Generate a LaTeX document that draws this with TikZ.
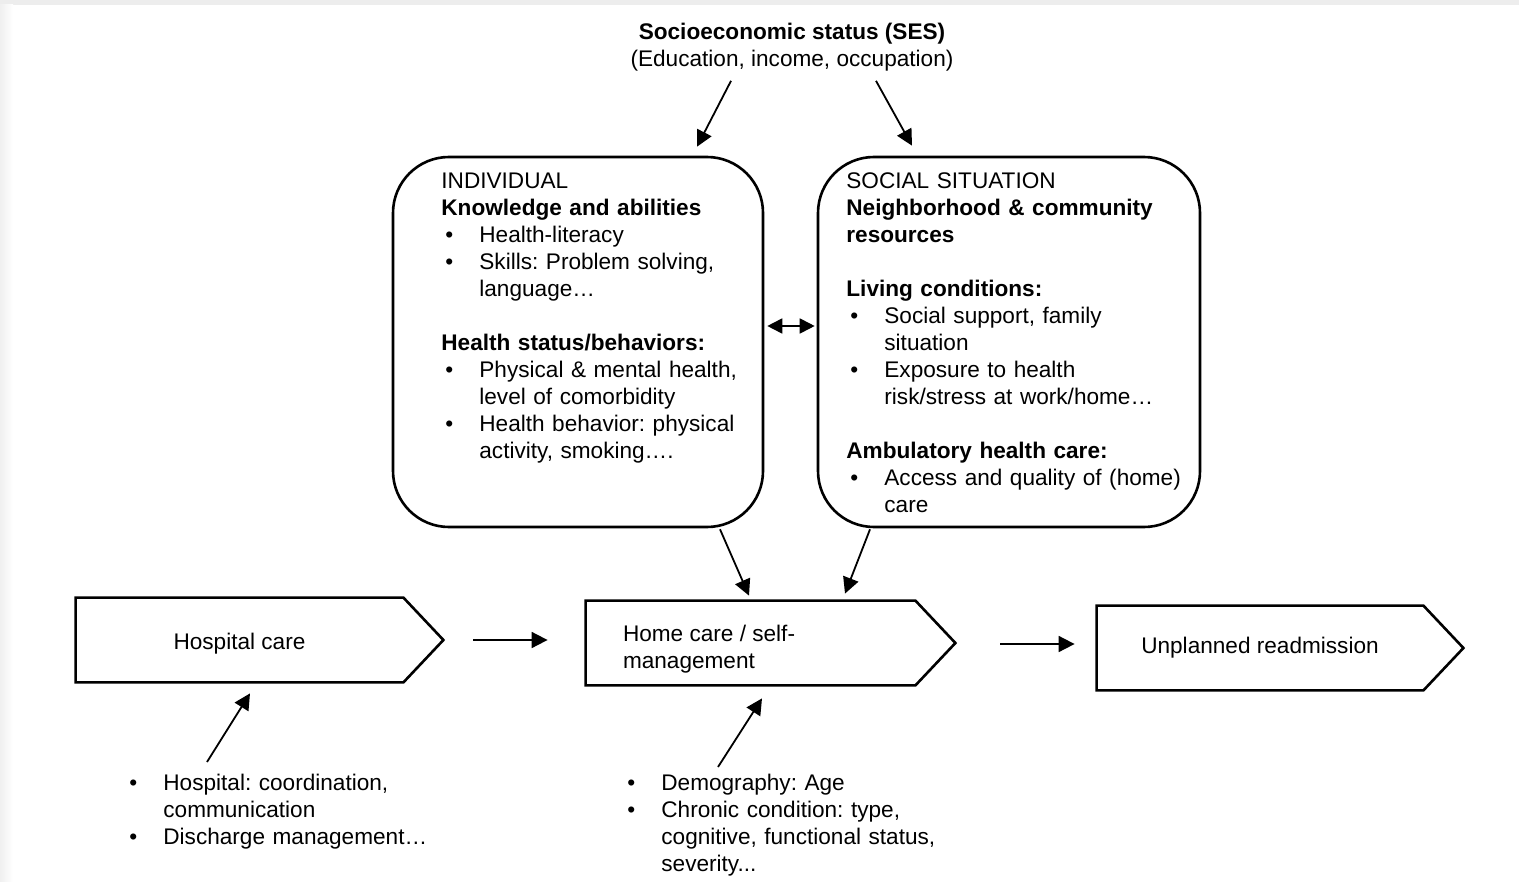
\documentclass[tikz,border=0pt]{standalone}
\usepackage{fontspec}
\setmainfont{Liberation Sans}
\usetikzlibrary{arrows.meta}
\frenchspacing

% bullet item with hanging indent, and an empty line
\newcommand{\itm}[1]{\par\hangindent=19pt\hangafter=1\noindent\hspace*{2pt}\makebox[17pt][l]{\textbullet}#1\par}
\newcommand{\gap}{\par\vspace{\baselineskip}}

\begin{document}
\begin{tikzpicture}[
                x=0.5pt, y=-0.5pt,
                every node/.style={font=\fontsize{11.3}{13.5}\selectfont, inner sep=0pt},
                roundbox/.style={draw, line width=1.3pt, rounded corners=28pt, minimum width=185pt, minimum height=185pt},
                boxtext/.style={anchor=north west, align=left},
                stage/.style={minimum height=42pt},
                arr/.style={line width=0.9pt, -{Triangle[length=8pt,width=8pt]}},
                arrboth/.style={line width=0.9pt, {Triangle[length=7.5pt,width=7.5pt]}-{Triangle[length=7.5pt,width=7.5pt]}}
            ]

            \useasboundingbox (0,0) rectangle (1519,882);
            \fill[black!7] (0,0) rectangle (1519,5);
            \shade[left color=black!6, right color=white] (0,5) rectangle (13,882);

            \node[anchor=north, align=center] (ses) at (792,23) {\textbf{Socioeconomic status (SES)}\\(Education, income, occupation)};

            % the two factor boxes
            \node[roundbox] (indiv) at (578,342) {};
            \node[roundbox, minimum width=191pt] (social) at (1009,342) {};

            \node[boxtext, text width=160pt] (indivtxt) at (441,173) {INDIVIDUAL\par
                \textbf{Knowledge and abilities}
                \itm{Health-literacy}
                \itm{Skills: Problem solving,\newline language…}
                \gap
                \textbf{Health status/behaviors:}
                \itm{Physical \& mental health,\newline level of comorbidity}
                \itm{Health behavior: physical\newline activity, smoking….}};

            \node[boxtext, text width=172pt] (socialtxt) at (846,172) {SOCIAL SITUATION\par
                \textbf{Neighborhood \& community}\par
                \textbf{resources}
                \gap
                \textbf{Living conditions:}
                \itm{Social support, family\newline situation}
                \itm{Exposure to health\newline risk/stress at work/home…}
                \gap
                \textbf{Ambulatory health care:}
                \itm{Access and quality of (home)\newline care}};

            % care path
            \node[stage, minimum width=163.5pt, label={[yshift=-2pt]center:Hospital care}] (hosp) at (239.5,640) {};
            \node[stage, minimum width=164.5pt,
                label={[anchor=west, align=left, xshift=18.5pt, yshift=-3pt]west:{Home care / self-\\management}}] (home) at (750.5,643) {};
            \node[stage, minimum width=163pt, label={center:Unplanned readmission}] (unpl) at (1260,648) {};

            \foreach \n in {hosp,home,unpl}
                \draw[line width=1.3pt] (\n.north west) -- (\n.north east) -- ([xshift=20pt]\n.east)
                    -- (\n.south east) -- (\n.south west) -- cycle;

            \node[boxtext, text width=160pt] (hbul) at (125,763) {%
                \itm{Hospital: coordination,\newline communication}
                \itm{Discharge management…}};
            \node[boxtext, text width=165pt] (dbul) at (623,763) {%
                \itm{Demography: Age}
                \itm{Chronic condition: type,\newline cognitive, functional status,\newline severity...}};

            \draw[arr] ([shift={(-61,9)}]ses.south) -- ([shift={(119,-9)}]indiv.north);
            \draw[arr] ([shift={(84,9)}]ses.south) -- ([shift={(-97,-10)}]social.north);
            \draw[arrboth] ([shift={(3,-16)}]indiv.east) -- ([shift={(-2,-16)}]social.west);
            \draw[arr] ([shift={(142,1)}]indiv.south) -- ([shift={(-1.5,-5)}]home.north);
            \draw[arr] ([shift={(-139,1)}]social.south) -- ([shift={(94.5,-7)}]home.north);
            \draw[arr] ([shift={(70,0)}]hosp.east) -- ([shift={(-38,-3)}]home.west);
            \draw[arr] ([shift={(85,1)}]home.east) -- ([shift={(-22,-4)}]unpl.west);
            \draw[arr] ([shift={(82,-1)}]hbul.north west) -- ([shift={(10.5,11)}]hosp.south);
            \draw[arr] ([shift={(95,4)}]dbul.north west) -- ([shift={(11.5,13)}]home.south);

        \end{tikzpicture}
\end{document}
